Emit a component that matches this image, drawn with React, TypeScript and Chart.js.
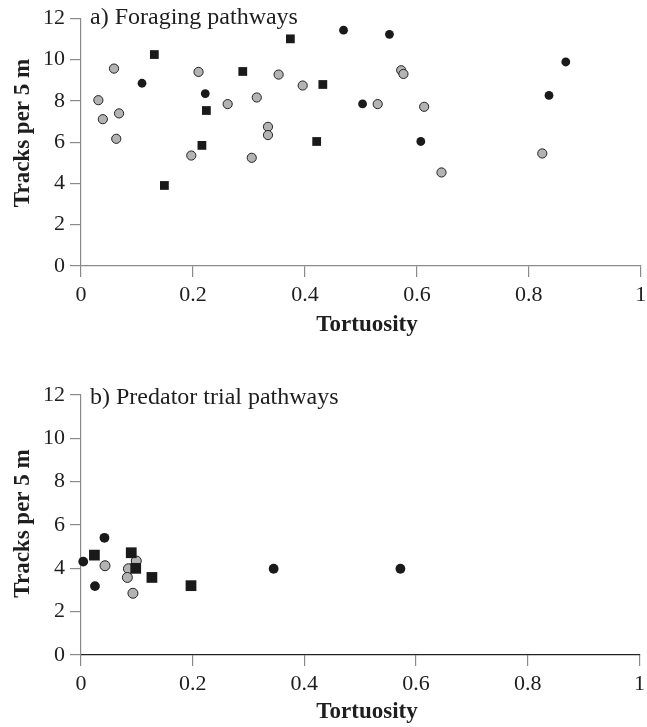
import React, { useEffect, useRef } from 'react';
import { Chart, registerables } from 'chart.js';

Chart.register(...registerables);

// ---------- data ----------
const xTickValues = [0, 0.2, 0.4, 0.6, 0.8, 1];
const xTickLabels = ['0', '0.2', '0.4', '0.6', '0.8', '1'];
const yTickValues = [0, 2, 4, 6, 8, 10, 12];
const yTickLabels = ['0', '2', '4', '6', '8', '10', '12'];

const panelTitleA = 'a) Foraging pathways';
const panelTitleB = 'b) Predator trial pathways';
const xAxisTitle = 'Tortuosity';
const yAxisTitle = 'Tracks per 5 m';

// Panel a
const aGrayX = [0.031, 0.039, 0.059, 0.068, 0.063, 0.197, 0.210, 0.262, 0.314, 0.305, 0.334, 0.334, 0.353, 0.396, 0.572, 0.576, 0.530, 0.613, 0.644, 0.824];
const aGrayY = [8.03, 7.11, 9.56, 7.39, 6.16, 5.35, 9.40, 7.84, 8.16, 5.24, 6.74, 6.34, 9.27, 8.74, 9.48, 9.30, 7.84, 7.71, 4.53, 5.45];
const aBlackX = [0.109, 0.222, 0.469, 0.551, 0.503, 0.607, 0.866, 0.836];
const aBlackY = [8.85, 8.35, 11.42, 11.22, 7.85, 6.03, 9.88, 8.26];
const aSquareX = [0.131, 0.149, 0.216, 0.224, 0.289, 0.374, 0.421, 0.432];
const aSquareY = [10.24, 3.90, 5.84, 7.53, 9.42, 11.0, 6.03, 8.79];

// Panel b
const bGrayX = [0.043, 0.085, 0.083, 0.099, 0.093];
const bGrayY = [4.12, 3.98, 3.58, 4.34, 2.85];
const bBlackX = [0.004, 0.042, 0.025, 0.345, 0.572];
const bBlackY = [4.31, 5.41, 3.18, 3.98, 3.98];
const bSquareX = [0.024, 0.090, 0.098, 0.127, 0.197];
const bSquareY = [4.61, 4.72, 4.00, 3.58, 3.20];

// ---------- helpers ----------
const FONT = '"Liberation Serif", "Times New Roman", serif';
const pts = (xs: number[], ys: number[]) => xs.map((x, i) => ({ x, y: ys[i] }));

const textPlugin = {
  id: 'panelText',
  afterDraw(chart: any, _args: any, o: any) {
    const ctx = chart.ctx;
    ctx.save();
    ctx.fillStyle = '#1e1e1e';
    ctx.textBaseline = 'alphabetic';
    // panel title
    ctx.font = `24px ${FONT}`;
    ctx.textAlign = 'left';
    ctx.fillText(o.title, o.titleX, o.titleY);
    // x axis title
    ctx.font = `bold 23px ${FONT}`;
    ctx.textAlign = 'center';
    ctx.fillText(o.xTitle, o.xTitleX, o.xTitleY);
    // y axis title
    ctx.translate(o.yTitleX, o.yTitleY);
    ctx.rotate(-Math.PI / 2);
    ctx.fillText(o.yTitle, 0, 0);
    ctx.restore();
  },
};

interface PanelProps {
  top: number;
  height: number;
  areaTop: number;
  areaBottom: number;
  gray: { x: number; y: number }[];
  black: { x: number; y: number }[];
  squares: { x: number; y: number }[];
  grayR: number;
  blackR: number;
  squareR: number;
  xBorderColor: string;
  title: string;
  titleY: number;
  yTitleY: number;
  xTitleY: number;
}

function Panel(p: PanelProps) {
  const ref = useRef<HTMLCanvasElement | null>(null);
  useEffect(() => {
    if (!ref.current) return;
    const chart = new Chart(ref.current, {
      type: 'scatter',
      data: {
        datasets: [
          {
            label: 'squares',
            data: p.squares,
            pointStyle: 'rect',
            pointRadius: p.squareR,
            backgroundColor: '#1a1a1a',
            borderColor: '#1a1a1a',
            borderWidth: 0,
            clip: false,
          },
          {
            label: 'black',
            data: p.black,
            pointStyle: 'circle',
            pointRadius: p.blackR,
            backgroundColor: '#1a1a1a',
            borderColor: '#1a1a1a',
            borderWidth: 0,
            clip: false,
          },
          {
            label: 'gray',
            data: p.gray,
            pointStyle: 'circle',
            pointRadius: p.grayR,
            backgroundColor: '#b3b3b3',
            borderColor: '#222',
            borderWidth: 1,
            clip: false,
          },
        ],
      },
      options: {
        responsive: false,
        animation: false,
        events: [],
        layout: { padding: { top: p.areaTop, right: 0, left: 0, bottom: 0 } },
        plugins: {
          legend: { display: false },
          tooltip: { enabled: false },
          panelText: {
            title: p.title,
            titleX: 90,
            titleY: p.titleY,
            xTitle: xAxisTitle,
            xTitleX: 367,
            xTitleY: p.xTitleY,
            yTitle: yAxisTitle,
            yTitleX: 29,
            yTitleY: p.yTitleY,
          },
        } as any,
        scales: {
          x: {
            type: 'linear',
            min: 0,
            max: 1,
            afterBuildTicks: (s: any) => {
              s.ticks = xTickValues.map((v) => ({ value: v }));
            },
            afterFit: (s: any) => {
              s.height = p.height - p.areaBottom;
              s.paddingRight = 5;
            },
            ticks: {
              callback: (_v: any, i: number) => xTickLabels[i],
              font: { family: FONT, size: 22 },
              color: '#1e1e1e',
              padding: 5,
              maxRotation: 0,
              autoSkip: false,
            },
            grid: { drawOnChartArea: false, drawTicks: true, tickLength: 11, color: '#8a8a8a', lineWidth: 1.2 },
            border: { display: true, color: p.xBorderColor, width: 1.2 },
          },
          y: {
            type: 'linear',
            min: 0,
            max: 12,
            afterBuildTicks: (s: any) => {
              s.ticks = yTickValues.map((v) => ({ value: v }));
            },
            afterFit: (s: any) => {
              s.width = 81;
            },
            ticks: {
              callback: (_v: any, i: number) => yTickLabels[i],
              font: { family: FONT, size: 22 },
              color: '#1e1e1e',
              padding: 5,
              autoSkip: false,
            },
            grid: { drawOnChartArea: false, drawTicks: true, tickLength: 11, color: '#8a8a8a', lineWidth: 1.2 },
            border: { display: true, color: '#8a8a8a', width: 1.2 },
          },
        },
      },
      plugins: [textPlugin],
    } as any);
    return () => chart.destroy();
  }, []);
  return (
    <canvas
      ref={ref}
      width={647}
      height={p.height}
      style={{ position: 'absolute', left: 0, top: p.top, width: 647, height: p.height }}
    />
  );
}

export default function App() {
  return (
    <div style={{ position: 'fixed', left: 0, top: 0, width: 647, height: 727, background: '#fff' }}>
      <Panel
        top={0}
        height={345}
        areaTop={18}
        areaBottom={266}
        gray={pts(aGrayX, aGrayY)}
        black={pts(aBlackX, aBlackY)}
        squares={pts(aSquareX, aSquareY)}
        grayR={4.6}
        blackR={4.4}
        squareR={6.2}
        xBorderColor="#8a8a8a"
        title={panelTitleA}
        titleY={24}
        yTitleY={133}
        xTitleY={331}
      />
      <Panel
        top={350}
        height={377}
        areaTop={45}
        areaBottom={305}
        gray={pts(bGrayX, bGrayY)}
        black={pts(bBlackX, bBlackY)}
        squares={pts(bSquareX, bSquareY)}
        grayR={5}
        blackR={4.9}
        squareR={7.6}
        xBorderColor="#222"
        title={panelTitleB}
        titleY={54}
        yTitleY={173.5}
        xTitleY={368}
      />
    </div>
  );
}
